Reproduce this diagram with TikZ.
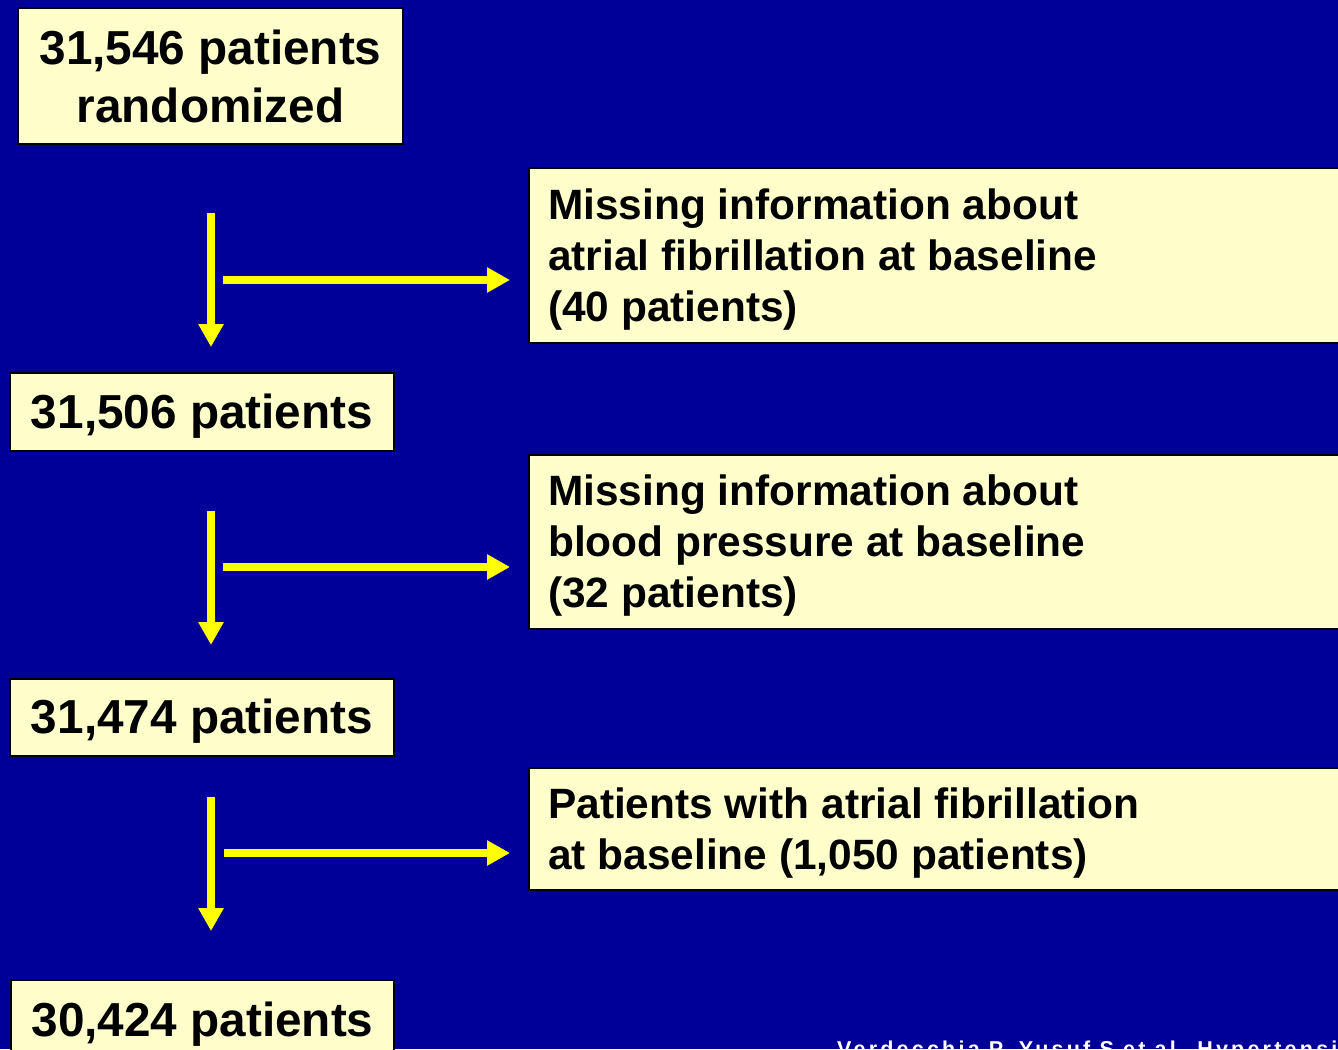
\documentclass[tikz,border=0pt]{standalone}
\usepackage{fontspec}
\setmainfont{Liberation Sans}
\usetikzlibrary{arrows.meta}
\definecolor{bgblue}{RGB}{0,0,153}
\definecolor{boxfill}{RGB}{255,255,204}
\definecolor{arrowyellow}{RGB}{255,255,0}
\begin{document}
\begin{tikzpicture}[x=1pt,y=-1pt,
  frame/.style={draw=black, line width=2pt, fill=boxfill, anchor=north west, inner sep=0pt},
  lefttext/.style={align=center, inner sep=0pt, font=\bfseries\fontsize{47.7}{58}\selectfont},
  righttext/.style={align=left, anchor=west, inner sep=0pt,
    font=\bfseries\fontsize{42.4}{51}\selectfont},
  flow/.style={draw=arrowyellow, line width=8pt, -{Triangle[width=24pt,length=23pt]}},
  cite/.style={text=white, anchor=base west, inner sep=0pt,
    font=\bfseries\fontsize{21.5}{24}\selectfont\addfontfeature{LetterSpace=15}}]
\useasboundingbox (0,0) rectangle (1338,1049);
\clip (0,0) rectangle (1338,1049);
\fill[bgblue] (0,0) rectangle (1338,1049);

% left boxes
\node[frame, minimum width=385pt, minimum height=136pt] (b1) at (17,7) {};
\node[lefttext] (b1t) at (b1.center) {31,546 patients\\randomized};
\node[frame, minimum width=384pt, minimum height=78pt] (b2) at (9,372) {};
\node[lefttext] (b2t) at ([yshift=-4pt]b2.center) {31,506 patients};
\node[frame, minimum width=384pt, minimum height=77pt] (b3) at (9,678) {};
\node[lefttext] (b3t) at ([yshift=-4pt]b3.center) {31,474 patients};
\node[frame, minimum width=383pt, minimum height=80pt] (b4) at (10,979) {};
\node[lefttext] (b4t) at ([yshift=-4pt]b4.center) {30,424 patients};

% right boxes
\node[frame, minimum width=820pt, minimum height=175pt] (r1) at (528,167) {};
\node[righttext] (r1t) at ([xshift=20pt,yshift=-4pt]r1.west) {Missing information about\\atrial fibrillation at baseline\\(40 patients)};
\node[frame, minimum width=820pt, minimum height=174pt] (r2) at (528,454) {};
\node[righttext] (r2t) at ([xshift=20pt,yshift=-4pt]r2.west) {Missing information about\\blood pressure at baseline\\(32 patients)};
\node[frame, minimum width=820pt, minimum height=122pt] (r3) at (528,767) {};
\node[righttext] (r3t) at ([xshift=20pt,yshift=-4pt]r3.west) {Patients with atrial fibrillation\\at baseline (1,050 patients)};

% arrow coordinates
\coordinate (v1s) at (211,213); \coordinate (v1e) at (211,347);
\coordinate (h1s) at (223,280); \coordinate (h1e) at (r1.west |- 0,280);
\coordinate (v2s) at (211,511); \coordinate (v2e) at (211,645);
\coordinate (h2s) at (223,567); \coordinate (h2e) at (r2.west |- 0,567);
\coordinate (v3s) at (211,797); \coordinate (v3e) at (211,931);
\coordinate (h3s) at (224,853); \coordinate (h3e) at (r3.west |- 0,853);

\draw[flow] (v1s) -- (v1e);
\draw[flow] (h1s) -- ([xshift=-18pt]h1e);
\draw[flow] (v2s) -- (v2e);
\draw[flow] (h2s) -- ([xshift=-18pt]h2e);
\draw[flow] (v3s) -- (v3e);
\draw[flow] (h3s) -- ([xshift=-18pt]h3e);

% citation (cut off at bottom edge, as in the reference)
\node[cite] (cite) at (837,1056) {Verdecchia P, Yusuf S et al. Hypertension};
\end{tikzpicture}
\end{document}
